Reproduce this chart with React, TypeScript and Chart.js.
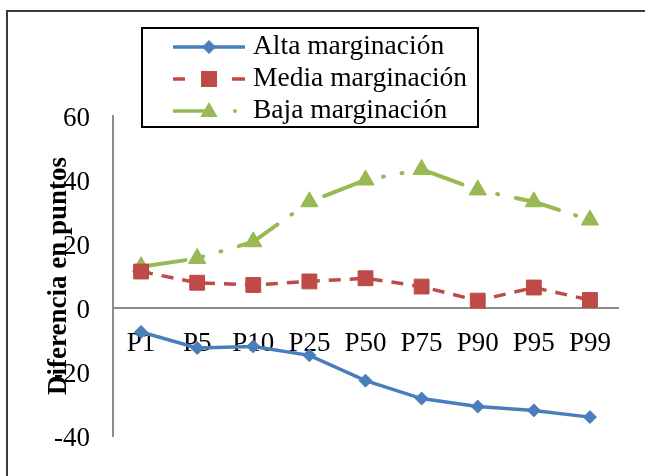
import { useEffect, useRef } from 'react';
import { Chart, registerables } from 'chart.js';

Chart.register(...registerables);

const categories = ['P1', 'P5', 'P10', 'P25', 'P50', 'P75', 'P90', 'P95', 'P99'];
const altaValues = [-7.5, -12.5, -12, -14.8, -22.7, -28.3, -30.8, -32, -34.1];
const mediaValues = [11.4, 7.9, 7.2, 8.3, 9.3, 6.7, 2.3, 6.4, 2.5];
const bajaValues = [12.9, 15.5, 20.7, 33.2, 40, 43.3, 36.9, 33.2, 27.5];
const yTickValues = [-40, -20, 0, 20, 40, 60];
const seriesNames = ['Alta marginación', 'Media marginación', 'Baja marginación'];
const axisTitle = 'Diferencia en puntos';

const BLUE = '#4a7ebb';
const RED = '#be4b48';
const GREEN = '#98b954';
const AXIS_GRAY = '#8c8c8c';
const FONT = "'Liberation Serif', 'Times New Roman', serif";

// Outer frame of the figure (left and top edges are visible on the page)
const framePlugin = {
  id: 'frame',
  beforeDraw(chart: any) {
    const ctx = chart.ctx;
    ctx.save();
    ctx.strokeStyle = '#3a3a3a';
    ctx.lineWidth = 2;
    ctx.beginPath();
    ctx.moveTo(7, chart.height + 10);
    ctx.lineTo(7, 11);
    ctx.lineTo(chart.width + 10, 11);
    ctx.stroke();
    ctx.restore();
  },
};

// Rotated y-axis title, drawn close to the tick labels
const yTitlePlugin = {
  id: 'yTitle',
  afterDraw(chart: any) {
    const ctx = chart.ctx;
    const y = chart.scales.y;
    ctx.save();
    ctx.translate(59, (y.top + y.bottom) / 2);
    ctx.rotate(-Math.PI / 2);
    ctx.font = `bold 27px ${FONT}`;
    ctx.fillStyle = '#000';
    ctx.textAlign = 'center';
    ctx.textBaseline = 'middle';
    ctx.fillText(axisTitle, 0, 0);
    ctx.restore();
  },
};

function drawDiamond(ctx: CanvasRenderingContext2D, x: number, y: number, r: number, color: string) {
  ctx.fillStyle = color;
  ctx.beginPath();
  ctx.moveTo(x - r, y);
  ctx.lineTo(x, y - r);
  ctx.lineTo(x + r, y);
  ctx.lineTo(x, y + r);
  ctx.closePath();
  ctx.fill();
}

function drawSquare(ctx: CanvasRenderingContext2D, x: number, y: number, half: number, color: string) {
  ctx.fillStyle = color;
  ctx.fillRect(x - half, y - half, half * 2, half * 2);
}

function drawTriangle(ctx: CanvasRenderingContext2D, x: number, y: number, r: number, color: string) {
  ctx.fillStyle = color;
  ctx.beginPath();
  ctx.moveTo(x, y - r);
  ctx.lineTo(x + r * Math.sin((2 * Math.PI) / 3), y + r / 2);
  ctx.lineTo(x - r * Math.sin((2 * Math.PI) / 3), y + r / 2);
  ctx.closePath();
  ctx.fill();
}

// Boxed legend with line + marker samples
const legendPlugin = {
  id: 'boxLegend',
  afterDraw(chart: any) {
    const ctx: CanvasRenderingContext2D = chart.ctx;
    const box = { left: 142, top: 28, right: 478, bottom: 127 };
    const rows = [47, 79, 111];
    const x0 = 173;
    const x1 = 245;
    const xm = (x0 + x1) / 2;
    ctx.save();
    ctx.strokeStyle = '#000';
    ctx.lineWidth = 2;
    ctx.strokeRect(box.left, box.top, box.right - box.left, box.bottom - box.top);

    ctx.lineWidth = 3.5;
    ctx.lineCap = 'butt';
    // Alta: solid line with diamond
    ctx.strokeStyle = BLUE;
    ctx.beginPath();
    ctx.moveTo(x0, rows[0]);
    ctx.lineTo(x1, rows[0]);
    ctx.stroke();
    drawDiamond(ctx, xm, rows[0], 7, BLUE);

    // Media: dashes with square
    ctx.strokeStyle = RED;
    ctx.beginPath();
    ctx.moveTo(x0, rows[1]);
    ctx.lineTo(x0 + 12, rows[1]);
    ctx.moveTo(x1 - 13, rows[1]);
    ctx.lineTo(x1, rows[1]);
    ctx.stroke();
    drawSquare(ctx, xm, rows[1], 8, RED);

    // Baja: long dash, triangle, dot
    ctx.strokeStyle = GREEN;
    ctx.beginPath();
    ctx.moveTo(x0, rows[2]);
    ctx.lineTo(xm, rows[2]);
    ctx.stroke();
    drawTriangle(ctx, xm, rows[2] + 1, 10, GREEN);
    ctx.fillStyle = GREEN;
    ctx.beginPath();
    ctx.arc(235, rows[2], 2, 0, Math.PI * 2);
    ctx.fill();

    ctx.fillStyle = '#000';
    ctx.font = `27.5px ${FONT}`;
    ctx.textAlign = 'left';
    ctx.textBaseline = 'middle';
    seriesNames.forEach((name, i) => ctx.fillText(name, 253, rows[i]));
    ctx.restore();
  },
};

export default function App() {
  const canvasRef = useRef<HTMLCanvasElement | null>(null);

  useEffect(() => {
    const canvas = canvasRef.current;
    if (!canvas) return;
    const chart = new Chart(canvas, {
      type: 'line',
      data: {
        labels: categories,
        datasets: [
          {
            label: seriesNames[0],
            data: altaValues,
            borderColor: BLUE,
            backgroundColor: BLUE,
            borderWidth: 3.5,
            pointStyle: 'rectRot',
            pointRadius: 6.5,
            pointBorderWidth: 1,
            pointBackgroundColor: BLUE,
            pointBorderColor: BLUE,
            tension: 0,
          },
          {
            label: seriesNames[1],
            data: mediaValues,
            borderColor: RED,
            backgroundColor: RED,
            borderWidth: 3.5,
            borderDash: [12, 9],
            pointStyle: 'rect',
            pointRadius: 10.5,
            pointBorderWidth: 1,
            pointBackgroundColor: RED,
            pointBorderColor: RED,
            tension: 0,
          },
          {
            label: seriesNames[2],
            data: bajaValues,
            borderColor: GREEN,
            backgroundColor: GREEN,
            borderWidth: 4,
            borderDash: [45, 17, 1, 18, 1, 18],
            borderCapStyle: 'round',
            pointStyle: 'triangle',
            pointRadius: 10,
            pointBorderWidth: 1,
            pointBackgroundColor: GREEN,
            pointBorderColor: GREEN,
            tension: 0,
          },
        ],
      },
      options: {
        animation: false,
        responsive: false,
        devicePixelRatio: 1,
        layout: { padding: { top: 116, right: 27, bottom: 40, left: 0 } },
        plugins: {
          legend: { display: false },
          tooltip: { enabled: false },
          title: { display: false },
        },
        scales: {
          x: {
            type: 'category',
            position: { y: 0 } as any,
            offset: true,
            grid: { display: false, drawTicks: false },
            border: { display: true, color: AXIS_GRAY, width: 2 },
            ticks: {
              font: { family: FONT, size: 27 },
              color: '#000',
              padding: 20,
              maxRotation: 0,
              autoSkip: false,
            },
          },
          y: {
            type: 'linear',
            min: -40,
            max: 60,
            afterBuildTicks: (scale: any) => {
              scale.ticks = yTickValues.map((v) => ({ value: v }));
            },
            afterFit: (scale: any) => {
              scale.width = 113;
            },
            grid: { display: false, drawTicks: false },
            border: { display: true, color: AXIS_GRAY, width: 2 },
            ticks: {
              font: { family: FONT, size: 27 },
              color: '#000',
              padding: 23,
              labelOffset: 3,
            },
          },
        },
      },
      plugins: [framePlugin, yTitlePlugin, legendPlugin],
    });
    return () => chart.destroy();
  }, []);

  return (
    <div style={{ position: 'fixed', left: 0, top: 0, width: 645, height: 476, background: '#fff' }}>
      <canvas ref={canvasRef} width={645} height={476} style={{ display: 'block' }} />
    </div>
  );
}
